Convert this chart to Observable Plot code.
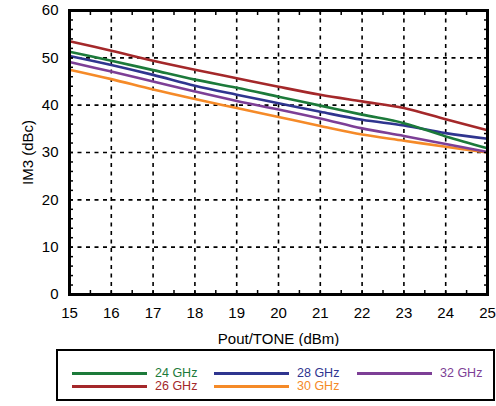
<!DOCTYPE html>
<html>
<head>
<meta charset="utf-8">
<script src="https://cdn.jsdelivr.net/npm/d3@7"></script>
<script src="https://cdn.jsdelivr.net/npm/@observablehq/plot@0.6"></script>
<style>
  html, body { margin: 0; padding: 0; background: #fff; }
  body { width: 496px; height: 406px; position: relative; font-family: "Liberation Sans", Arial, sans-serif; }
  #chart svg { display: block; }
  #legend { position: absolute; left: 56px; top: 349px; width: 435px; height: 48px; border: 2px solid #000; box-sizing: content-box; }
  .item { position: absolute; height: 12px; font-size: 12.5px; line-height: 12px; white-space: nowrap; }
  .item .ln { position: absolute; left: 0; top: 5px; width: 75px; height: 3px; }
  .item .tx { position: absolute; left: 83px; top: 0; }
</style>
</head>
<body>
<div id="chart"></div>
<div id="legend"></div>
<script>
const pout = [15, 16, 17, 18, 19, 20, 21, 22, 23, 24, 25];
const im3_24GHz = [51.3, 49.4, 47.4, 45.4, 43.7, 41.8, 39.9, 38.0, 36.2, 33.4, 30.9];
const im3_26GHz = [53.5, 51.5, 49.4, 47.5, 45.7, 43.9, 42.2, 40.8, 39.4, 37.0, 34.7];
const im3_28GHz = [50.4, 48.5, 46.4, 44.1, 42.2, 40.4, 38.6, 36.9, 35.7, 34.1, 32.9];
const im3_30GHz = [47.5, 45.5, 43.3, 41.3, 39.4, 37.5, 35.6, 33.8, 32.5, 31.2, 30.0];
const im3_32GHz = [49.1, 47.1, 45.0, 42.9, 40.9, 39.1, 37.2, 35.1, 33.5, 31.8, 30.1];
const seriesNames = ["24 GHz", "26 GHz", "28 GHz", "30 GHz", "32 GHz"];
const seriesColors = ["#1c7a3a", "#a4282a", "#2f358f", "#f58a28", "#7d3f96"];
const xTicks = [15, 16, 17, 18, 19, 20, 21, 22, 23, 24, 25];
const yTicks = [0, 10, 20, 30, 40, 50, 60];

const seriesValues = [im3_24GHz, im3_26GHz, im3_28GHz, im3_30GHz, im3_32GHz];
const rows = seriesNames.flatMap((name, i) => pout.map((x, j) => ({series: name, x, y: seriesValues[i][j]})));
const drawOrder = ["30 GHz", "32 GHz", "28 GHz", "24 GHz", "26 GHz"];

const xMinor = d3.range(15, 25.001, 0.5);
const yMinor = d3.range(0, 60.001, 2);
const font = "Liberation Sans, Arial, sans-serif";

const chart = Plot.plot({
  width: 496,
  height: 346,
  marginLeft: 69,
  marginRight: 9,
  marginTop: 10,
  marginBottom: 52,
  style: {fontFamily: font, fontSize: "15px", color: "#000", background: "#fff"},
  x: {domain: [15, 25]},
  y: {domain: [0, 60]},
  color: {domain: seriesNames, range: seriesColors},
  marks: [
    Plot.ruleX(xTicks.slice(1, -1), {stroke: "#000", strokeWidth: 1.6, strokeDasharray: "4,4.5"}),
    Plot.ruleY(yTicks.slice(1, -1), {stroke: "#000", strokeWidth: 1.6, strokeDasharray: "4,4.5"}),
    ...drawOrder.map(name => Plot.line(rows.filter(d => d.series === name), {
      x: "x", y: "y", stroke: "series", strokeWidth: 2.6, curve: "catmull-rom"
    })),
    Plot.axisX({anchor: "bottom", ticks: xMinor, tickSize: -4, text: null, strokeWidth: 1.5, label: null}),
    Plot.axisX({anchor: "top", ticks: xMinor, tickSize: -4, text: null, strokeWidth: 1.5, label: null}),
    Plot.axisY({anchor: "left", ticks: yMinor, tickSize: -4, text: null, strokeWidth: 1.5, label: null}),
    Plot.axisY({anchor: "right", ticks: yMinor, tickSize: -4, text: null, strokeWidth: 1.5, label: null}),
    Plot.axisX({anchor: "bottom", ticks: xTicks, tickSize: 0, tickPadding: 13, tickFormat: d => String(d),
      fontSize: 15, label: "Pout/TONE (dBm)", labelAnchor: "center", labelArrow: "none", labelOffset: 49}),
    Plot.axisY({anchor: "left", ticks: yTicks, tickSize: 0, tickPadding: 11, tickFormat: d => String(d),
      fontSize: 15, label: "IM3 (dBc)", labelAnchor: "center", labelArrow: "none", labelOffset: 47}),
    Plot.frame({stroke: "#000", strokeWidth: 3})
  ]
});
document.getElementById("chart").appendChild(chart);

// legend
const legend = document.getElementById("legend");
const legendPos = [
  {left: 14, top: 16}, {left: 14, top: 29},
  {left: 156, top: 16}, {left: 156, top: 29},
  {left: 299, top: 16}
];
seriesNames.forEach((name, i) => {
  const item = document.createElement("div");
  item.className = "item";
  item.style.left = legendPos[i].left + "px";
  item.style.top = legendPos[i].top + "px";
  const ln = document.createElement("div");
  ln.className = "ln";
  ln.style.background = seriesColors[i];
  const tx = document.createElement("div");
  tx.className = "tx";
  tx.style.color = seriesColors[i];
  tx.textContent = name;
  item.appendChild(ln);
  item.appendChild(tx);
  legend.appendChild(item);
});
</script>
</body>
</html>
